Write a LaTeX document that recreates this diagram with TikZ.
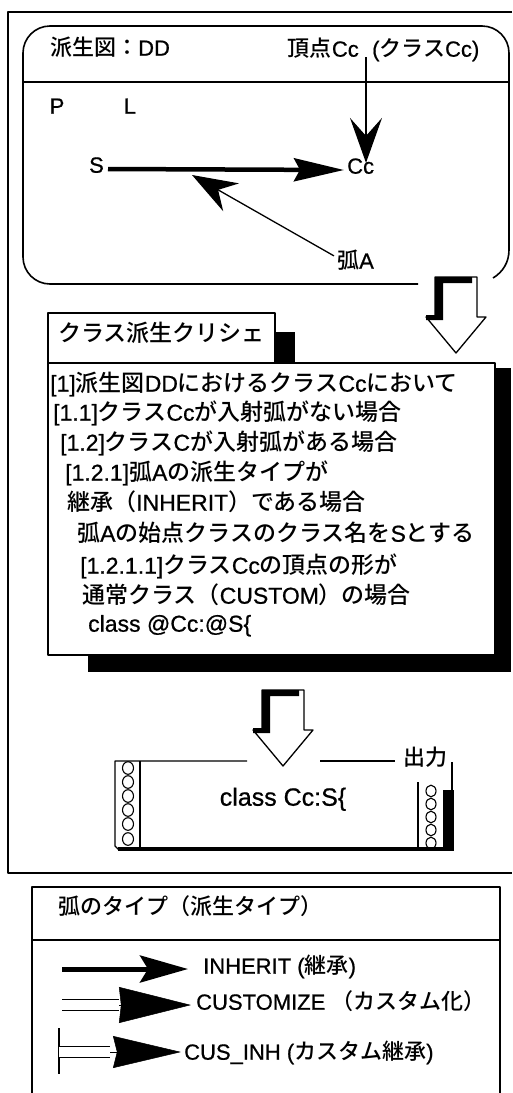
\documentclass[tikz,border=0pt]{standalone}
\usepackage{fontspec}
\setmainfont{Liberation Sans}[FakeBold=0.7]
\newfontfamily\jp{Noto Sans CJK JP}[UprightFont=* Medium]
\newcommand\jtxt[1]{{\jp #1}}
\usetikzlibrary{arrows.meta}
\begin{document}
\begin{tikzpicture}[x=1pt,y=-1pt,line join=round,
  frame/.style={draw,line width=1.6pt},
  thinline/.style={draw,line width=1.3pt},
  lbl/.style={inner sep=0pt,text height=0.86em,text depth=0.12em,font=\fontsize{22}{26}\selectfont},
  cl/.style={anchor=west,inner sep=0pt,text height=0.86em,text depth=0.12em,font=\fontsize{23}{28}\selectfont},
  dbl/.style={draw,line width=1.4pt,double,double distance=9.5pt},
  hole/.style={draw,line width=1.1pt},
  fatarrow/.pic={
    \fill[white] (0,0) -- (42,0) -- (42,40) -- (51,40) -- (21,76) -- (-9,40) -- (0,40) -- cycle;
    \fill[black] (0,0) -- (37,0) -- (37,6) -- (8,6) -- (8,43) -- (-9,43) -- (-9,38) -- (0,38) -- cycle;
    \draw[line width=1.3pt] (0,0) -- (42,0) -- (42,40) -- (51,40) -- (21,76) -- (-9,40) -- (0,40) -- cycle;
  }]
\useasboundingbox (0,0) rectangle (512,1093);
\fill[white] (0,0) rectangle (512,1093);

% outer frame
\draw[frame] (512,12) -- (8,12) -- (8,873) -- (512,873);

% graph panel
\draw[frame,rounded corners=27pt] (418,284) -| (23,26) -| (509,250);
\draw[frame] (509,250) .. controls (509,262) and (503,272) .. (493,278);
\draw[frame] (23,82) -- (509,82);
\node[lbl,anchor=west] (title) at (50,52) {\jtxt{派生図：}DD};
\node[lbl,anchor=east] (vtx) at (359,53) {\jtxt{頂点}Cc};
\node[lbl,anchor=west] (cls) at (372,53) {(\jtxt{クラス}Cc)};
\coordinate (vtop) at (366,57);
\node[lbl] (P) at (57,110) {P};
\node[lbl] (L) at (130,110) {L};
\node[lbl,anchor=east] (S) at (104,169) {S};
\node[lbl,anchor=west] (Cc) at (347,170) {Cc};
\node[lbl,anchor=west] (arcA) at (337,265) {\jtxt{弧}A};
\draw[line width=4.5pt,-{Stealth[length=50pt,width=23pt,inset=6pt]}] (S.east) ++(4,0) coordinate (s0) (s0) -- ([xshift=-3pt]Cc.west);
\draw[line width=1.3pt,-{Stealth[length=45pt,width=32pt,inset=18pt]}] (vtop) -- ([yshift=2pt]Cc.north -| vtop);
\draw[line width=1.3pt,-{Stealth[length=45pt,width=32pt,inset=15pt]}] (arcA.north west) ++(-3,-4) coordinate (a0) (a0) -- (192,175) coordinate (a1);

% fat arrow 1
\pic at (435,277) {fatarrow};

% cliche tab and box
\fill (275,332) rectangle (295,364);
\draw[frame,fill=white] (48,313) rectangle (275,363);
\node[cl] (tab) at (58,338) {\jtxt{クラス派生クリシェ}};
\fill (495,368) rectangle (511,672);
\fill (88,655) rectangle (511,672);
\draw[frame,fill=white] (48,363) rectangle (495,655);
\node[cl] (c1) at (50,388) {[1]\jtxt{派生図}DD\jtxt{におけるクラス}Cc\jtxt{において}};
\node[cl] (c2) at (53,417) {[1.1]\jtxt{クラス}Cc\jtxt{が入射弧がない場合}};
\node[cl] (c3) at (60,447) {[1.2]\jtxt{クラス}C\jtxt{が入射弧がある場合}};
\node[cl] (c4) at (65,477) {[1.2.1]\jtxt{弧}A\jtxt{の派生タイプが}};
\node[cl] (c5) at (67,507) {\jtxt{継承（}INHERIT\jtxt{）である場合}};
\node[cl] (c6) at (77,538) {\jtxt{弧}A\jtxt{の始点クラスのクラス名を}S\jtxt{とする}};
\node[cl] (c7) at (80,570) {[1.2.1.1]\jtxt{クラス}Cc\jtxt{の頂点の形が}};
\node[cl] (c8) at (82,600) {\jtxt{通常クラス（}CUSTOM\jtxt{）の場合}};
\node[cl] (c9) at (88,628) {class @Cc:@S\{};

% fat arrow 2
\pic at (262,690) {fatarrow};

% output sheet
\draw[thinline] (247,761) -- (115,761) -- (115,846) -- (119,850);
\draw[thinline] (320,761) -- (395,761);
\draw[thinline] (140,761) -- (140,849);
\draw[line width=3.5pt] (118,849) -- (454,849);
\draw[thinline] (418,782) -- (418,849);
\draw[thinline] (452,762) -- (452,790);
\fill (443,790) rectangle (454,851);
\foreach \yy in {768,782,796,810,824,839} \draw[hole] (128,\yy) ellipse (5.5pt and 6.3pt);
\foreach \yy in {791,804,817,830,843} \draw[hole] (431,\yy) ellipse (5pt and 5.8pt);
\node[lbl] (out) at (425,762) {\jtxt{出力}};
\node[lbl,font=\fontsize{25}{30}\selectfont] (res) at (283,802) {class Cc:S\{};

% legend
\draw[frame] (32,1093) -- (32,887) -- (500,887) -- (500,1093);
\draw[frame] (32,940) -- (500,940);
\node[lbl,anchor=west] (lt) at (58,911) {\jtxt{弧のタイプ（派生タイプ）}};
\coordinate (i0) at (62,969);
\coordinate (i1) at (188,969);
\draw[line width=5pt,-{Stealth[length=48pt,width=27pt,inset=8pt]}] (i0) -- (i1);
\node[lbl,anchor=west] (it) at (203,970) {INHERIT (\jtxt{継承})};
\coordinate (k0) at (62,1005);
\coordinate (k1) at (119,1005);
\coordinate (k2) at (191,1005);
\draw[dbl] (k0) -- (k1);
\draw[line width=0.5pt,-{Stealth[length=72pt,width=36pt,inset=2pt]}] (k1) -- (k2);
\node[lbl,anchor=west] (kt) at (196,1006) {CUSTOMIZE \jtxt{（カスタム化）}};
\coordinate (u0) at (59,1052);
\coordinate (u1) at (110,1052);
\coordinate (u2) at (181,1052);
\draw[line width=2.5pt] (59,1028) -- (59,1074);
\draw[dbl] (u0) -- (u1);
\draw[line width=0.5pt,-{Stealth[length=68pt,width=32pt,inset=4pt]}] (u1) -- (u2);
\node[lbl,anchor=west] (ut) at (184,1056) {CUS\_INH (\jtxt{カスタム継承})};
\end{tikzpicture}
\end{document}
